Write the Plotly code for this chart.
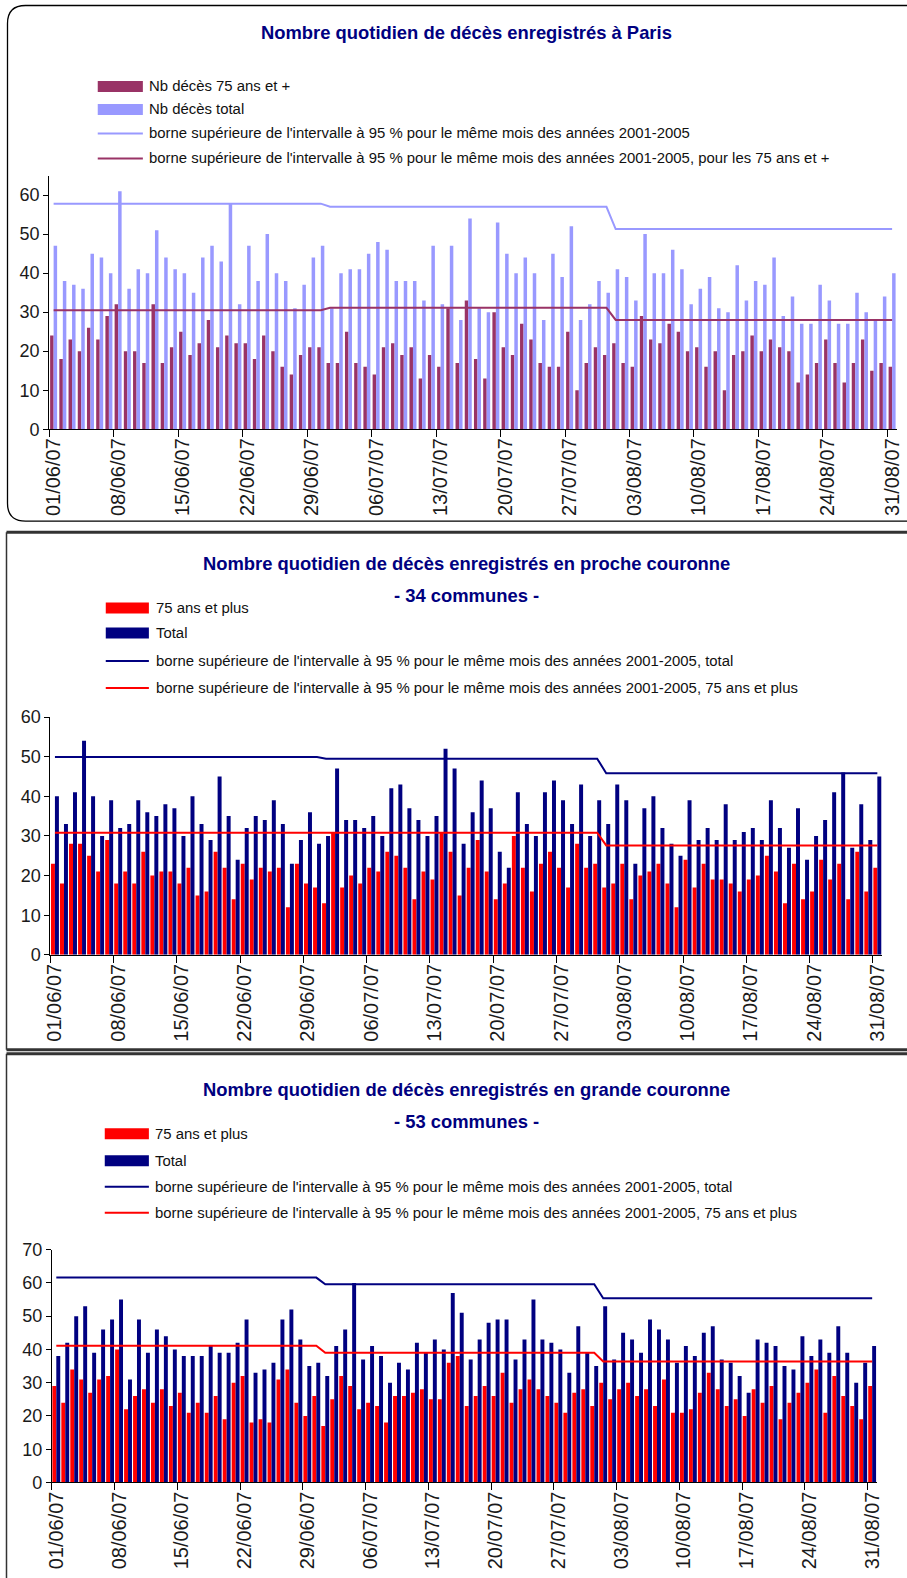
import plotly.graph_objects as go

W, H = 907, 1578

MONTH_LENGTHS = [30, 31, 31]  # juin, juillet, août 2007
DAY_INDEX = list(range(sum(MONTH_LENGTHS)))
TICK_POS = [0, 7, 14, 21, 28, 35, 42, 49, 56, 63, 70, 77, 84, 91]
TICK_LABELS = ["01/06/07", "08/06/07", "15/06/07", "22/06/07", "29/06/07", "06/07/07", "13/07/07",
               "20/07/07", "27/07/07", "03/08/07", "10/08/07", "17/08/07", "24/08/07", "31/08/07"]

# Paris
paris_75 = [24, 18, 23, 20, 26, 23, 29, 32, 20, 20, 17, 32, 17, 21, 25, 19, 22, 28, 21, 24, 22, 22, 18, 24, 20, 16, 14, 19, 21, 21,
            17, 17, 25, 17, 16, 14, 21, 22, 19, 21, 13, 19, 16, 31, 17, 33, 18, 13, 30, 21, 19, 27, 23, 17, 16, 16, 25, 10, 17, 21, 19,
            22, 17, 16, 29, 23, 22, 27, 25, 20, 21, 16, 20, 10, 19, 20, 24, 20, 23, 21, 20, 12, 14, 17, 23, 17, 12, 17, 23, 15, 17, 16]
paris_total = [47, 38, 37, 36, 45, 44, 40, 61, 36, 41, 40, 51, 44, 41, 40, 35, 44, 47, 43, 58, 32, 47, 38, 50, 40, 38, 31, 37, 44, 47,
               31, 40, 41, 41, 45, 48, 46, 38, 38, 38, 33, 47, 32, 47, 28, 54, 31, 30, 53, 45, 40, 44, 40, 28, 45, 39, 52, 28, 32, 38, 35,
               41, 39, 33, 50, 40, 40, 46, 41, 32, 36, 39, 31, 30, 42, 33, 38, 37, 44, 29, 34, 27, 27, 37, 33, 27, 27, 35, 30, 28, 34, 40]
paris_bound_total = [57.8, 57.0, 51.3]
paris_bound_75 = [30.5, 31.1, 28.0]

# proche couronne
pc_75 = [23, 18, 28, 28, 25, 21, 29, 18, 21, 18, 26, 20, 21, 21, 18, 22, 15, 16, 26, 22, 14, 23, 19, 22, 21, 22, 12, 23, 18, 17,
         13, 31, 17, 20, 18, 22, 21, 26, 25, 22, 14, 21, 19, 31, 26, 15, 22, 29, 21, 14, 18, 30, 22, 16, 23, 26, 22, 17, 28, 22, 23,
         17, 18, 23, 14, 20, 21, 23, 18, 12, 24, 17, 23, 19, 19, 18, 16, 19, 20, 25, 21, 13, 23, 14, 16, 24, 19, 23, 14, 26, 16, 22]
pc_total = [40, 33, 41, 54, 40, 30, 39, 32, 33, 39, 36, 35, 38, 37, 30, 40, 33, 29, 45, 35, 24, 32, 35, 34, 39, 33, 23, 29, 36, 28,
            30, 47, 34, 34, 32, 35, 30, 42, 43, 37, 34, 30, 35, 52, 47, 28, 36, 44, 37, 26, 22, 41, 33, 30, 41, 44, 39, 33, 43, 30, 39,
            33, 43, 39, 23, 37, 40, 32, 28, 25, 39, 29, 32, 29, 38, 29, 31, 32, 29, 39, 32, 27, 37, 24, 30, 34, 41, 46, 27, 38, 29, 45]
pc_bound_total = [49.9, 49.5, 45.8]
pc_bound_75 = [30.8, 30.8, 27.6]

# grande couronne
gc_75 = [29, 24, 34, 31, 27, 31, 32, 40, 22, 26, 28, 24, 28, 23, 27, 21, 24, 21, 26, 19, 30, 32, 18, 19, 18, 31, 34, 24, 20, 26,
         17, 25, 32, 29, 22, 24, 23, 18, 26, 26, 27, 28, 25, 25, 36, 38, 23, 26, 29, 26, 33, 24, 28, 31, 28, 26, 24, 21, 27, 28, 23,
         30, 25, 28, 30, 26, 28, 23, 31, 21, 21, 22, 27, 33, 28, 23, 25, 20, 28, 24, 29, 19, 24, 27, 30, 34, 21, 32, 26, 23, 19, 29]
gc_total = [38, 42, 50, 53, 39, 46, 49, 55, 31, 49, 39, 46, 44, 40, 38, 38, 38, 41, 39, 39, 42, 49, 33, 34, 36, 49, 52, 43, 35, 36,
            32, 41, 46, 60, 37, 41, 38, 30, 36, 34, 42, 39, 43, 40, 57, 51, 37, 43, 48, 49, 49, 37, 43, 55, 43, 42, 40, 33, 47, 39, 35,
            53, 37, 45, 43, 39, 49, 46, 43, 36, 41, 38, 45, 47, 37, 36, 32, 27, 43, 42, 41, 35, 34, 44, 38, 43, 39, 47, 39, 30, 36, 41]
gc_bound_total = [61.6, 59.6, 55.4]
gc_bound_75 = [41.1, 39.0, 36.4]

BORNE = "borne supérieure de l'intervalle à 95 % pour le même mois des années 2001-2005"

TXT_FONT = "Liberation Sans, Arial, sans-serif"
NAVY = "#000080"


def monthly(values):
    return [v for v, n in zip(values, MONTH_LENGTHS) for _ in range(n)]


# positions in page pixels -> paper coords (small correction for how the page gets captured)
def fx(p):
    return (p - 7.5) / 0.983 / W


def fy(p):
    return 1 - (p - 9.5) / 0.988 / H


panels = [
    dict(v75=paris_75, vtot=paris_total, b_tot=paris_bound_total, b75=paris_bound_75,
         c75="#993366", ctot="#9999FF", cl_tot="#9999FF", cl_75="#993366", bar_w=0.38,
         xdom=(49.4, 894.8), ydom=(175.2, 429), yrange=65,
         titles=[("Nombre quotidien de décès enregistrés à Paris", 32)],
         labels=["Nb décès 75 ans et +", "Nb décès total", BORNE, BORNE + ", pour les 75 ans et +"],
         leg_x=(98, 143, 147), leg_y=[86, 109, 133, 158]),
    dict(v75=pc_75, vtot=pc_total, b_tot=pc_bound_total, b75=pc_bound_75,
         c75="#FF0000", ctot=NAVY, cl_tot=NAVY, cl_75="#FF0000", bar_w=0.44,
         xdom=(50.8, 880), ydom=(717, 955), yrange=60,
         titles=[("Nombre quotidien de décès enregistrés en proche couronne", 563), ("- 34 communes -", 595)],
         labels=["75 ans et plus", "Total", BORNE + ", total", BORNE + ", 75 ans et plus"],
         leg_x=(106, 149, 154), leg_y=[608, 633, 661, 688]),
    dict(v75=gc_75, vtot=gc_total, b_tot=gc_bound_total, b75=gc_bound_75,
         c75="#FF0000", ctot=NAVY, cl_tot=NAVY, cl_75="#FF0000", bar_w=0.44,
         xdom=(52.2, 874.8), ydom=(1250, 1483), yrange=70,
         titles=[("Nombre quotidien de décès enregistrés en grande couronne", 1090), ("- 53 communes -", 1122)],
         labels=["75 ans et plus", "Total", BORNE + ", total", BORNE + ", 75 ans et plus"],
         leg_x=(105, 149, 153), leg_y=[1134, 1161, 1187, 1213]),
]

fig = go.Figure()
shapes, annotations = [], []
layout_axes = {}

for i, p in enumerate(panels, start=1):
    sfx = "" if i == 1 else str(i)
    xa, ya = "x" + sfx, "y" + sfx
    bw = p["bar_w"]
    fig.add_trace(go.Bar(x=DAY_INDEX, y=p["v75"], marker=dict(color=p["c75"], line_width=0),
                         width=bw, offset=-bw,
                         xaxis=xa, yaxis=ya, showlegend=False, name=p["labels"][0]))
    fig.add_trace(go.Bar(x=DAY_INDEX, y=p["vtot"], marker=dict(color=p["ctot"], line_width=0),
                         width=bw, offset=0,
                         xaxis=xa, yaxis=ya, showlegend=False, name=p["labels"][1]))
    fig.add_trace(go.Scatter(x=DAY_INDEX, y=monthly(p["b_tot"]), mode="lines", line=dict(color=p["cl_tot"], width=2),
                             xaxis=xa, yaxis=ya, showlegend=False, name=p["labels"][2]))
    fig.add_trace(go.Scatter(x=DAY_INDEX, y=monthly(p["b75"]), mode="lines", line=dict(color=p["cl_75"], width=2),
                             xaxis=xa, yaxis=ya, showlegend=False, name=p["labels"][3]))

    layout_axes["xaxis" + sfx] = dict(
        domain=[fx(p["xdom"][0]), fx(p["xdom"][1])], anchor=ya, range=[-0.5, 91.5],
        tickmode="array", tickvals=TICK_POS, ticktext=TICK_LABELS, tickangle=-90, ticks="",
        minor=dict(tick0=-0.5, dtick=7, ticks="outside", ticklen=7, tickcolor="black"),
        showline=True, linecolor="black", linewidth=1, showgrid=False, zeroline=False,
        tickfont=dict(family=TXT_FONT, size=20, color="#1a1a1a"))
    layout_axes["yaxis" + sfx] = dict(
        domain=[fy(p["ydom"][1]), fy(p["ydom"][0])], anchor=xa, range=[0, p["yrange"]],
        tickmode="linear", tick0=0, dtick=10, ticks="outside", ticklen=5, tickcolor="black",
        showline=True, linecolor="black", linewidth=1, showgrid=False, zeroline=False,
        tickfont=dict(family=TXT_FONT, size=18, color="#1a1a1a"))

    for text, y in p["titles"]:
        annotations.append(dict(text="<b>" + text + "</b>", x=fx(466), y=fy(y), xref="paper", yref="paper",
                                showarrow=False, xanchor="center", yanchor="middle",
                                font=dict(family=TXT_FONT, size=18.4, color=NAVY)))

    x0, x1, xt = p["leg_x"]
    colors = [p["c75"], p["ctot"], p["cl_tot"], p["cl_75"]]
    for k, (lab, y) in enumerate(zip(p["labels"], p["leg_y"])):
        if k < 2:
            shapes.append(dict(type="rect", xref="paper", yref="paper", x0=fx(x0), x1=fx(x1),
                               y0=fy(y + 5.5), y1=fy(y - 5.5), fillcolor=colors[k], line_width=0))
        else:
            shapes.append(dict(type="line", xref="paper", yref="paper", x0=fx(x0), x1=fx(x1),
                               y0=fy(y), y1=fy(y), line=dict(color=colors[k], width=2)))
        annotations.append(dict(text=lab, x=fx(xt), y=fy(y), xref="paper", yref="paper", showarrow=False,
                                xanchor="left", yanchor="middle", font=dict(family=TXT_FONT, size=14.9, color="#111111")))

# cadres des trois graphiques
shapes.append(dict(type="path", xref="paper", yref="paper", line=dict(color="black", width=1.3),
                   path=f"M {fx(930)},{fy(5)} L {fx(26)},{fy(5)} Q {fx(8)},{fy(5)} {fx(8)},{fy(23)} "
                        f"L {fx(8)},{fy(503)} Q {fx(8)},{fy(521)} {fx(26)},{fy(521)} L {fx(930)},{fy(521)}"))
for top, bottom in [(532, 1050), (1054, 1600)]:
    shapes.append(dict(type="line", xref="paper", yref="paper", x0=fx(7), x1=fx(930), y0=fy(top), y1=fy(top),
                       line=dict(color="#333333", width=3)))
    shapes.append(dict(type="line", xref="paper", yref="paper", x0=fx(7), x1=fx(7), y0=fy(top), y1=fy(bottom),
                       line=dict(color="#333333", width=1.5)))
shapes.append(dict(type="line", xref="paper", yref="paper", x0=fx(7), x1=fx(930), y0=fy(1050), y1=fy(1050),
                   line=dict(color="#333333", width=3)))

fig.update_layout(
    width=W, height=H, autosize=False,
    margin=dict(l=0, r=0, t=0, b=0),
    paper_bgcolor="white", plot_bgcolor="white",
    barmode="overlay",
    shapes=shapes, annotations=annotations,
    showlegend=False,
    **layout_axes,
)

fig.write_html("out.html", config={"displayModeBar": False},
               post_script="document.body.style.margin='0';document.body.style.overflow='hidden';")
